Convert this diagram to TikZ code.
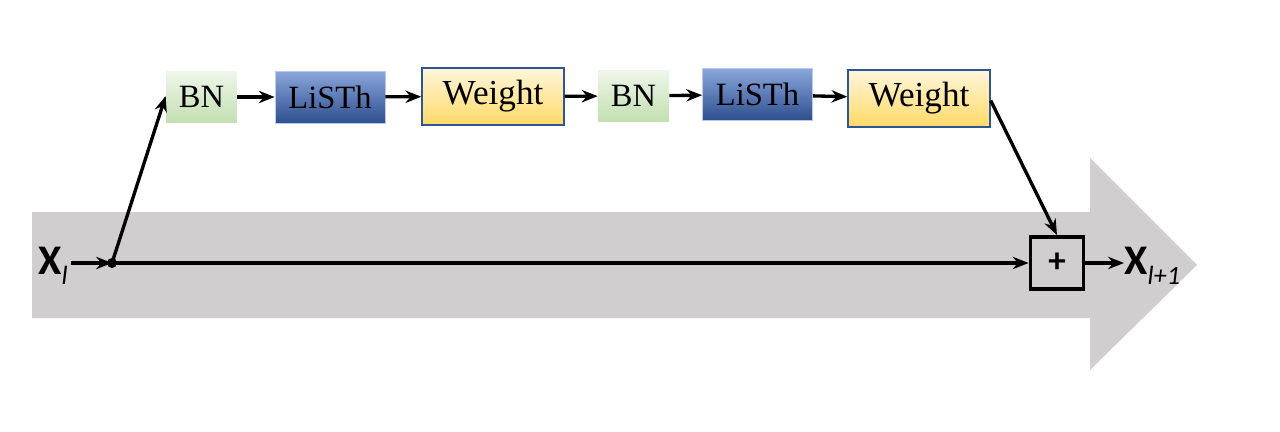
\documentclass[tikz,border=0pt]{standalone}
\usepackage{fontspec}
\setmainfont{Carlito}
\newfontfamily\boxfont{Liberation Serif}
\usetikzlibrary{arrows.meta}
\definecolor{arrowgray}{HTML}{D0CECE}
\definecolor{bntop}{HTML}{EEF6EA}
\definecolor{bnbot}{HTML}{C3DFB0}
\definecolor{lstop}{HTML}{8AA6DC}
\definecolor{lsbot}{HTML}{2E4F8E}
\definecolor{wtop}{HTML}{FFF6DC}
\definecolor{wbot}{HTML}{FFD966}
\definecolor{wborder}{HTML}{2F5597}
\tikzset{
  blk/.style={inner sep=0pt, font=\boxfont\fontsize{18.5}{20}\selectfont},
  bnbox/.style={blk, top color=bntop, bottom color=bnbot, minimum width=1.42cm, minimum height=1.04cm},
  lsbox/.style={blk, top color=lstop, bottom color=lsbot, draw=lstop!60!white, line width=0.4pt, minimum width=2.2cm, minimum height=1.04cm},
  wbox/.style={blk, font=\boxfont\fontsize{20}{22}\selectfont, top color=wtop, bottom color=wbot, draw=wborder, line width=0.8pt, minimum width=2.84cm, minimum height=1.14cm},
  conn/.style={line width=1.9pt, -{Stealth[length=9pt,width=7pt]}},
  lbl/.style={inner sep=0pt, font=\fontsize{24}{26}\selectfont\bfseries}
}
\begin{document}
\begin{tikzpicture}[x=0.02cm,y=-0.02cm]
\useasboundingbox (0,0) rectangle (1280,432);
\fill[arrowgray] (32,212) -- (1090,212) -- (1090,158) -- (1197,265) -- (1090,370) -- (1090,318) -- (32,318) -- cycle;
\node[bnbox] (bn1) at (201.5,97) {BN};
\node[lsbox] (ls1) at (330,97) {LiSTh};
\node[wbox] (w1) at (493,96.5) {Weight};
\node[bnbox] (bn2) at (633.5,96) {BN};
\node[lsbox] (ls2) at (757.5,94.5) {LiSTh};
\node[wbox] (w2) at (919,98.5) {Weight};
\node[draw, line width=2.2pt, minimum width=1.06cm, minimum height=1.04cm, inner sep=0pt, font=\fontsize{20}{22}\selectfont\bfseries] (plus) at (1057,263) {+};
\node[lbl, anchor=west] (xl) at (38,266) {X\raisebox{-0.5ex}{\fontsize{15}{16}\selectfont\mdseries\itshape l}};
\node[lbl, anchor=west] (xl1) at (1124,266) {X\raisebox{-0.5ex}{\fontsize{15}{16}\selectfont\mdseries\itshape l+1}};
\coordinate (dot) at (112,263);
\fill (dot) circle (5);
\draw[conn] ([xshift=0.06cm]xl.east |- dot) -- (dot);
\draw[conn] (dot) -- (bn1.west |- 0,96);
\draw[conn] (dot) -- (plus.west);
\draw[conn] (bn1) -- (ls1);
\draw[conn] (ls1) -- (w1);
\draw[conn] (w1) -- (bn2);
\draw[conn] (bn2) -- (ls2);
\draw[conn] (ls2) -- (w2);
\draw[conn] ([yshift=-0.04cm]w2.east) -- (plus.north);
\draw[conn] (plus.east) -- (plus.east -| xl1.west);
\end{tikzpicture}
\end{document}
